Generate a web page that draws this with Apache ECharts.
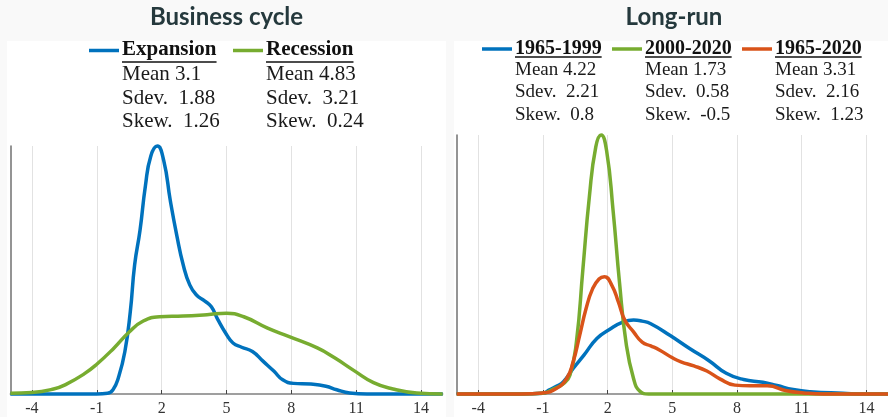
<!DOCTYPE html>
<html>
<head>
<meta charset="utf-8">
<script src="https://cdn.jsdelivr.net/npm/echarts@6/dist/echarts.min.js"></script>
<style>
  html, body { margin: 0; padding: 0; background: #f9f9f9; }
  #chart { width: 888px; height: 417px; }
</style>
</head>
<body>
<div id="chart"></div>
<script>
// ---- Kernel density estimates of growth rates, [x, density] ----
const expansion = [[-5,0],[-2,0],[-1,0],[-0.5,0.001],[-0.25,0.006],[0,0.023],[0.3,0.06],[0.55,0.116],
  [0.75,0.182],[1.0,0.231],[1.25,0.294],[1.5,0.336],[1.8,0.35],[2.1,0.329],[2.4,0.273],[2.7,0.224],
  [3.0,0.182],[3.3,0.154],[3.6,0.14],[4.0,0.131],[4.3,0.123],[4.6,0.105],[5.0,0.084],[5.3,0.072],
  [5.7,0.066],[6.2,0.06],[6.7,0.046],[7.2,0.032],[7.6,0.02],[8.1,0.015],[8.9,0.014],[9.6,0.011],
  [10.1,0.006],[10.7,0.0014],[11.5,0],[13,0],[15,0]];
const recession = [[-5,0.001],[-4,0.002],[-3,0.007],[-2.4,0.014],[-1.6,0.028],[-1.0,0.042],[-0.2,0.065],
  [0.5,0.0875],[1.15,0.103],[1.9,0.109],[3.0,0.11],[4.1,0.112],[5.0,0.114],[5.8,0.109],[6.9,0.093],
  [7.9,0.081],[9.2,0.065],[10.0,0.051],[10.9,0.033],[11.8,0.016],[12.7,0.007],[13.8,0.0014],[15,0]];

const y1965_1999 = [[-5,0],[-2,0],[-1,0.002],[-0.7,0.011],[-0.4,0.02],[-0.05,0.033],[0.4,0.069],[0.9,0.105],
  [1.5,0.15],[2.1,0.175],[2.7,0.194],[3.2,0.2],[3.6,0.197],[4.0,0.19],[4.9,0.158],[5.8,0.123],
  [6.7,0.09],[7.5,0.056],[8.3,0.039],[9.2,0.032],[9.85,0.023],[10.6,0.012],[11.4,0.006],[12.9,0.002],
  [14,0],[15,0]];
const y2000_2020 = [[-5,0],[-2,0],[-1.0,0.002],[-0.5,0.014],[-0.05,0.028],[0.25,0.051],[0.55,0.14],
  [0.85,0.336],[1.15,0.532],[1.45,0.668],[1.7,0.7],[1.95,0.658],[2.25,0.497],[2.55,0.301],[2.85,0.14],
  [3.2,0.042],[3.5,0.007],[3.9,0],[6,0],[10,0],[15,0]];
const y1965_2020 = [[-5,0],[-2,0],[-1.0,0.003],[-0.4,0.014],[0.1,0.042],[0.4,0.087],[0.7,0.158],
  [1.0,0.231],[1.3,0.284],[1.6,0.311],[1.85,0.317],[2.2,0.293],[2.5,0.248],[2.8,0.199],[3.2,0.168],
  [3.6,0.14],[4.0,0.13],[4.4,0.119],[5.0,0.098],[5.4,0.087],[6.0,0.076],[6.6,0.062],[7.2,0.041],
  [7.9,0.024],[8.6,0.022],[9.4,0.022],[10.3,0.009],[11.1,0.003],[12,0],[15,0]];

// ---- Legend text ----
const bcNames = ['Expansion', 'Recession'];
const bcMean = [3.1, 4.83];
const bcSdev = [1.88, 3.21];
const bcSkew = [1.26, 0.24];
const lrNames = ['1965-1999', '2000-2020', '1965-2020'];
const lrMean = [4.22, 1.73, 3.31];
const lrSdev = [2.21, 0.58, 2.16];
const lrSkew = [0.8, -0.5, 1.23];

const xTicks = [-4, -1, 2, 5, 8, 11, 14];
const titles = ['Business cycle', 'Long-run'];

const BLUE = '#0072BD', GREEN = '#77AC30', ORANGE = '#D95319';
const SERIF = '"Liberation Serif", "Times New Roman", serif';

const measureCtx = document.createElement('canvas').getContext('2d');
function textWidth(text, font) { measureCtx.font = font; return measureCtx.measureText(text).width; }

// Legend block: colour swatch, underlined bold name, then three stat rows
function legendBlock(cols, colors, names, mean, sdev, skew, cfg) {
  const els = [];
  const headFont = 'bold ' + cfg.headSize + 'px ' + SERIF;
  const rowFont = cfg.rowSize + 'px ' + SERIF;
  cols.forEach((x, i) => {
    els.push({ type: 'line', shape: { x1: x - 33, y1: cfg.swatchY, x2: x - 3, y2: cfg.swatchY },
      style: { stroke: colors[i], lineWidth: 3.5 } });
    els.push({ type: 'text', x: x, y: cfg.headY,
      style: { text: names[i], font: headFont, fill: '#111', textVerticalAlign: 'middle', verticalAlign: 'middle' } });
    const w = textWidth(names[i], headFont);
    els.push({ type: 'line', shape: { x1: x, y1: cfg.underY, x2: x + w, y2: cfg.underY },
      style: { stroke: '#111', lineWidth: 1.3 } });
    const rows = ['Mean ' + mean[i], 'Sdev.  ' + sdev[i], 'Skew.  ' + skew[i]];
    rows.forEach((r, k) => {
      els.push({ type: 'text', x: x, y: cfg.rowY[k],
        style: { text: r, font: rowFont, fill: '#1a1a1a', textVerticalAlign: 'middle', verticalAlign: 'middle' } });
    });
  });
  return els;
}

const graphics = [
  { type: 'rect', z: -10, shape: { x: 7, y: 41, width: 439, height: 380 }, style: { fill: '#ffffff' } },
  { type: 'rect', z: -10, shape: { x: 454, y: 41, width: 440, height: 380 }, style: { fill: '#ffffff' } },
  { type: 'text', x: 226.5, y: 17.5, style: { text: titles[0], font: 'bold 24px Lato', fill: '#25393d',
    textAlign: 'center', align: 'center', textVerticalAlign: 'middle', verticalAlign: 'middle' } },
  { type: 'text', x: 674, y: 17.5, style: { text: titles[1], font: 'bold 24px Lato', fill: '#25393d',
    textAlign: 'center', align: 'center', textVerticalAlign: 'middle', verticalAlign: 'middle' } }
].concat(
  legendBlock([122, 266], [BLUE, GREEN], bcNames, bcMean, bcSdev, bcSkew,
    { headSize: 21, rowSize: 21, swatchY: 50.5, headY: 50, underY: 62, rowY: [74.3, 98, 121.7] }),
  legendBlock([515, 645, 775], [BLUE, GREEN, ORANGE], lrNames, lrMean, lrSdev, lrSkew,
    { headSize: 20, rowSize: 19, swatchY: 49, headY: 49.2, underY: 57, rowY: [70, 92, 115] })
);

function xAxisFor(gridIndex) {
  return {
    type: 'value', gridIndex: gridIndex, min: -5, max: 15,
    axisLine: { show: true, onZero: false, lineStyle: { color: '#808080', width: 1.5 } },
    axisTick: { show: true, inside: true, length: 4, customValues: xTicks, lineStyle: { color: '#444', width: 1 } },
    axisLabel: { show: true, customValues: xTicks, margin: 7, fontFamily: SERIF, fontSize: 16, color: '#333' },
    splitLine: { show: true, customValues: xTicks, lineStyle: { color: '#e2e2e2', width: 1 } }
  };
}
function yAxisFor(gridIndex, max) {
  return {
    type: 'value', gridIndex: gridIndex, min: 0, max: max,
    axisLine: { show: true, onZero: false, lineStyle: { color: '#707070', width: 1.5 } },
    axisTick: { show: false }, axisLabel: { show: false }, splitLine: { show: false }
  };
}
function curve(name, data, color, axisIndex) {
  return {
    name: name, type: 'line', data: data, xAxisIndex: axisIndex, yAxisIndex: axisIndex,
    smooth: 0.5, showSymbol: false, clip: false, animation: false,
    lineStyle: { color: color, width: 3.5 }, itemStyle: { color: color }
  };
}

const chart = echarts.init(document.getElementById('chart'), null, { renderer: 'canvas' });
chart.setOption({
  animation: false,
  grid: [
    { left: 10.3, top: 146, width: 432.4, height: 250.7 },
    { left: 456.7, top: 135, width: 431.5, height: 260.7 }
  ],
  xAxis: [xAxisFor(0), xAxisFor(1)],
  yAxis: [yAxisFor(0, 0.35), yAxisFor(1, 0.70)],
  series: [
    curve(bcNames[0], expansion, BLUE, 0),
    curve(bcNames[1], recession, GREEN, 0),
    curve(lrNames[0], y1965_1999, BLUE, 1),
    curve(lrNames[1], y2000_2020, GREEN, 1),
    curve(lrNames[2], y1965_2020, ORANGE, 1)
  ],
  graphic: graphics
});
</script>
</body>
</html>
